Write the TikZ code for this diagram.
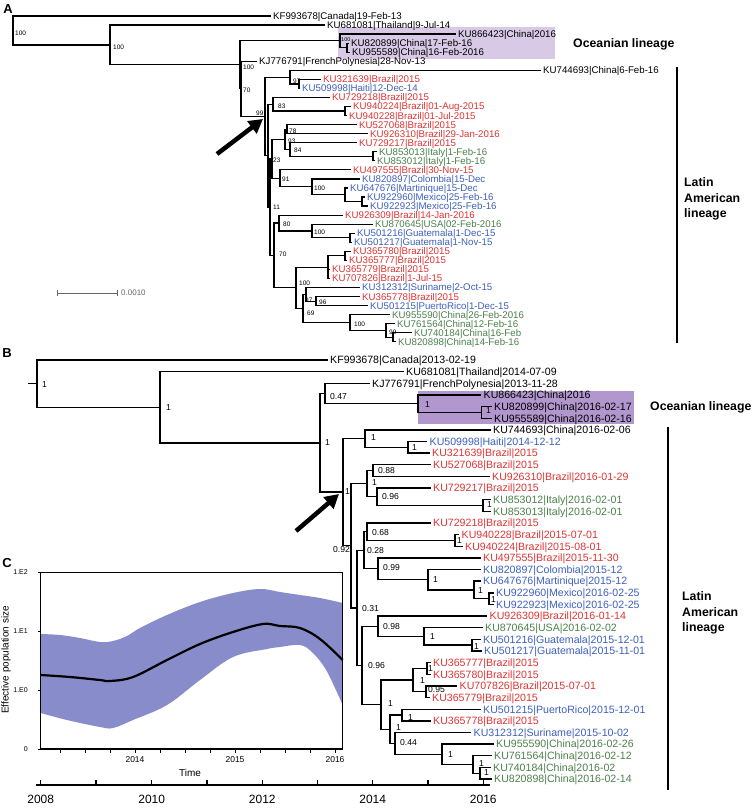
\documentclass[tikz,border=0pt]{standalone}
\usepackage{fontspec}
\setmainfont{Liberation Sans}
\usetikzlibrary{arrows.meta}
\definecolor{zred}{RGB}{222,52,52}
\definecolor{zblue}{RGB}{62,96,190}
\definecolor{zgreen}{RGB}{76,128,76}
\definecolor{boxA}{RGB}{216,202,230}
\definecolor{boxB}{RGB}{178,150,206}
\definecolor{band}{RGB}{136,140,202}
\tikzset{
  brA/.style={line width=1.2pt},
  brB/.style={line width=1.4pt},
  leafA/.style={anchor=west, inner xsep=2pt, inner ysep=0pt, font=\fontsize{9.7}{10}\selectfont, text height=6.9pt, text depth=0pt},
  leafB/.style={anchor=west, inner xsep=2.5pt, inner ysep=0pt, font=\fontsize{10.6}{11}\selectfont, text height=7.6pt, text depth=0pt},
  supA/.style={anchor=west, inner sep=0pt, font=\fontsize{6.5}{7}\selectfont},
  supB/.style={anchor=west, inner sep=0pt, font=\fontsize{8.6}{9}\selectfont},
  lineage/.style={anchor=west, inner sep=0pt, font=\fontsize{12.3}{15.5}\selectfont\bfseries, align=left},
  panel/.style={inner sep=0pt, font=\fontsize{13}{13}\selectfont\bfseries},
  bigarrow/.style={line width=4.5pt, -{Triangle[length=14pt,width=15pt]}},
  lbar/.style={line width=2.6pt},
  axlab/.style={inner sep=0pt, font=\fontsize{7}{8}\selectfont},
}
\begin{document}
\begin{tikzpicture}[x=1pt,y=-1pt]
\useasboundingbox (0,0) rectangle (753,808);
\fill[white] (0,0) rectangle (753,808);

% ================= Panel A =================
\node[panel] (pA) at (8,9) {A};
\fill[boxA] (338,26.7) rectangle (555,59.3);

% leaves A
\node[leafA] (A0) at (271,16.0) {KF993678|Canada|19-Feb-13};
\node[leafA] (A1) at (325,25.05) {KU681081|Thailand|9-Jul-14};
\node[leafA] (A2) at (456,34.1) {KU866423|China|2016};
\node[leafA] (A3) at (349,43.15) {KU820899|China|17-Feb-16};
\node[leafA] (A4) at (350,52.2) {KU955589|China|16-Feb-2016};
\node[leafA] (A5) at (257,61.25) {KJ776791|FrenchPolynesia|28-Nov-13};
\node[leafA] (A6) at (541,70.3) {KU744693|China|6-Feb-16};
\node[leafA,text=zred] (A7) at (321,79.35) {KU321639|Brazil|2015};
\node[leafA,text=zblue] (A8) at (300,88.4) {KU509998|Haiti|12-Dec-14};
\node[leafA,text=zred] (A9) at (330,97.45) {KU729218|Brazil|2015};
\node[leafA,text=zred] (A10) at (351,106.5) {KU940224|Brazil|01-Aug-2015};
\node[leafA,text=zred] (A11) at (347,115.55) {KU940228|Brazil|01-Jul-2015};
\node[leafA,text=zred] (A12) at (357,124.6) {KU527068|Brazil|2015};
\node[leafA,text=zred] (A13) at (368,133.65) {KU926310|Brazil|29-Jan-2016};
\node[leafA,text=zred] (A14) at (357,142.7) {KU729217|Brazil|2015};
\node[leafA,text=zgreen] (A15) at (377,151.75) {KU853013|Italy|1-Feb-16};
\node[leafA,text=zgreen] (A16) at (375,160.8) {KU853012|Italy|1-Feb-16};
\node[leafA,text=zred] (A17) at (351,169.85) {KU497555|Brazil|30-Nov-15};
\node[leafA,text=zblue] (A18) at (360,178.9) {KU820897|Colombia|15-Dec};
\node[leafA,text=zblue] (A19) at (348,187.95) {KU647676|Martinique|15-Dec};
\node[leafA,text=zblue] (A20) at (365,197.0) {KU922960|Mexico|25-Feb-16};
\node[leafA,text=zblue] (A21) at (368,206.05) {KU922923|Mexico|25-Feb-16};
\node[leafA,text=zred] (A22) at (343,215.1) {KU926309|Brazil|14-Jan-2016};
\node[leafA,text=zgreen] (A23) at (373,224.15) {KU870645|USA|02-Feb-2016};
\node[leafA,text=zblue] (A24) at (355,233.2) {KU501216|Guatemala|1-Dec-15};
\node[leafA,text=zblue] (A25) at (352,242.25) {KU501217|Guatemala|1-Nov-15};
\node[leafA,text=zred] (A26) at (351,251.3) {KU365780|Brazil|2015};
\node[leafA,text=zred] (A27) at (347,260.35) {KU365777|Brazil|2015};
\node[leafA,text=zred] (A28) at (330,269.4) {KU365779|Brazil|2015};
\node[leafA,text=zred] (A29) at (330,278.45) {KU707826|Brazil|1-Jul-15};
\node[leafA,text=zblue] (A30) at (360,287.5) {KU312312|Suriname|2-Oct-15};
\node[leafA,text=zred] (A31) at (360,296.55) {KU365778|Brazil|2015};
\node[leafA,text=zblue] (A32) at (368,305.6) {KU501215|PuertoRico|1-Dec-15};
\node[leafA,text=zgreen] (A33) at (390,314.65) {KU955590|China|26-Feb-2016};
\node[leafA,text=zgreen] (A34) at (395,323.7) {KU761564|China|12-Feb-16};
\node[leafA,text=zgreen] (A35) at (412,332.75) {KU740184|China|16-Feb};
\node[leafA,text=zgreen] (A36) at (396,341.8) {KU820898|China|14-Feb-16};

% internal A
\coordinate (nAroot) at (13,30.5);
\coordinate (nAN1) at (110,45.0);
\coordinate (nA100) at (240,64.9);
\coordinate (nAOC) at (340,40.9);
\coordinate (nAP3) at (347,47.7);
\coordinate (nA70) at (241,88.8);
\coordinate (nALA) at (265,116.4);
\coordinate (nAP) at (290,77.1);
\coordinate (nAQ97) at (299,83.9);
\coordinate (nAX) at (268,155.7);
\coordinate (nA83) at (273,104.2);
\coordinate (nAP940) at (345,111.0);
\coordinate (nA11) at (270,207.1);
\coordinate (nA23) at (272,158.8);
\coordinate (nA93) at (285,139.3);
\coordinate (nA78) at (287,129.1);
\coordinate (nA84) at (290,149.5);
\coordinate (nAPit) at (373,156.3);
\coordinate (nA91) at (280,178.3);
\coordinate (nA100c) at (312,186.8);
\coordinate (nAMart) at (345,194.7);
\coordinate (nAPmx) at (362,201.5);
\coordinate (nA70b) at (274,255.4);
\coordinate (nA80) at (279,223.0);
\coordinate (nA100u) at (312,230.9);
\coordinate (nAPgu) at (350,237.7);
\coordinate (nA100b) at (296,287.8);
\coordinate (nABr) at (328,267.1);
\coordinate (nAP780) at (345,255.8);
\coordinate (nA69) at (303,308.5);
\coordinate (nA97) at (306,294.3);
\coordinate (nA96) at (316,301.1);
\coordinate (nACh) at (350,322.6);
\coordinate (nASub) at (386,330.5);
\coordinate (nAP99) at (393,337.3);

\foreach \p/\c in {nAroot/A0, nAroot/nAN1, nAN1/A1, nAN1/nA100, nA100/nAOC, nA100/nA70,
  nAOC/A2, nAOC/nAP3, nAP3/A3, nAP3/A4, nA70/A5, nA70/nALA, nALA/nAP, nALA/nAX,
  nAP/A6, nAP/nAQ97, nAQ97/A7, nAQ97/A8, nAX/nA83, nAX/nA11, nA83/A9, nA83/nAP940,
  nAP940/A10, nAP940/A11, nA11/nA23, nA11/nA70b, nA23/nA93, nA23/nA91,
  nA93/nA78, nA93/nA84, nA78/A12, nA78/A13, nA84/A14, nA84/nAPit, nAPit/A15, nAPit/A16,
  nA91/A17, nA91/nA100c, nA100c/A18, nA100c/nAMart, nAMart/A19, nAMart/nAPmx, nAPmx/A20, nAPmx/A21,
  nA70b/nA80, nA70b/nA100b, nA80/A22, nA80/nA100u, nA100u/A23, nA100u/nAPgu, nAPgu/A24, nAPgu/A25,
  nA100b/nABr, nA100b/nA69, nABr/nAP780, nABr/A28, nABr/A29, nAP780/A26, nAP780/A27,
  nA69/nA97, nA69/nACh, nA97/A30, nA97/nA96, nA96/A31, nA96/A32,
  nACh/A33, nACh/nASub, nASub/A34, nASub/nAP99, nAP99/A35, nAP99/A36}
  \draw[brA] (\p) |- (\c);

% support values A
\foreach \x/\y/\t in {15/33/100, 113/47/100, 243/67/100, 243/90/70, 293/81/97, 256/113/99,
  278/106.5/83, 289/131/78, 288/141/93, 294/150/84, 273/160/23, 282/179/91, 314/188/100,
  273/207/11, 283/224/80, 314/232/100, 279/254/70, 299/283/100, 305/300/97, 319/302/96,
  307/313/69, 354/324/100, 389/332/99}
  \node[supA] at (\x,\y) {\t};
\node[supA,font=\fontsize{5.5}{6}\selectfont] (sA100c) at (341,40) {100};

% scale bar
\coordinate (sbL) at (57,293);
\coordinate (sbR) at (117,293);
\draw[gray!80!black, line width=0.8pt] (sbL) -- (sbR);
\draw[gray!80!black, line width=0.8pt] ([yshift=-3pt]sbL) -- ([yshift=3pt]sbL);
\draw[gray!80!black, line width=0.8pt] ([yshift=-3pt]sbR) -- ([yshift=3pt]sbR);
\node[anchor=west, inner sep=0pt, text=gray!80!black, font=\fontsize{8}{9}\selectfont] (sbT) at (121,293) {0.0010};

% lineage A
\node[lineage] (ocA) at (573,44) {Oceanian lineage};
\coordinate (laAtop) at (677,67);
\coordinate (laAbot) at (677,343);
\draw[lbar] (laAtop) -- (laAbot);
\node[lineage] (laA) at (684,199) {Latin\\American\\lineage};

% arrow A
\coordinate (arAt) at (217,154);
\coordinate (arAh) at (263,119);
\draw[bigarrow] (arAt) -- (arAh);

% ================= Panel B =================
\node[panel] (pB) at (7,353) {B};
\fill[boxB] (418.3,390.7) rectangle (634.3,424.3);

\node[leafB] (B0) at (327.5,360) {KF993678|Canada|2013-02-19};
\node[leafB] (B1) at (403.5,371.64) {KU681081|Thailand|2014-07-09};
\node[leafB] (B2) at (369.5,383.28) {KJ776791|FrenchPolynesia|2013-11-28};
\node[leafB] (B3) at (481,394.92) {KU866423|China|2016};
\node[leafB] (B4) at (491.5,406.56) {KU820899|China|2016-02-17};
\node[leafB] (B5) at (491.5,418.2) {KU955589|China|2016-02-16};
\node[leafB] (B6) at (490.5,429.84) {KU744693|China|2016-02-06};
\node[leafB,text=zblue] (B7) at (427,441.48) {KU509998|Haiti|2014-12-12};
\node[leafB,text=zred] (B8) at (429.5,453.12) {KU321639|Brazil|2015};
\node[leafB,text=zred] (B9) at (430.5,464.76) {KU527068|Brazil|2015};
\node[leafB,text=zred] (B10) at (489.5,476.4) {KU926310|Brazil|2016-01-29};
\node[leafB,text=zred] (B11) at (430.5,488.04) {KU729217|Brazil|2015};
\node[leafB,text=zgreen] (B12) at (490.5,499.68) {KU853012|Italy|2016-02-01};
\node[leafB,text=zgreen] (B13) at (490.5,511.32) {KU853013|Italy|2016-02-01};
\node[leafB,text=zred] (B14) at (430.5,522.96) {KU729218|Brazil|2015};
\node[leafB,text=zred] (B15) at (459,534.6) {KU940228|Brazil|2015-07-01};
\node[leafB,text=zred] (B16) at (462.5,546.24) {KU940224|Brazil|2015-08-01};
\node[leafB,text=zred] (B17) at (480.5,557.88) {KU497555|Brazil|2015-11-30};
\node[leafB,text=zblue] (B18) at (480.5,569.52) {KU820897|Colombia|2015-12};
\node[leafB,text=zblue] (B19) at (480.5,581.16) {KU647676|Martinique|2015-12};
\node[leafB,text=zblue] (B20) at (493.5,592.8) {KU922960|Mexico|2016-02-25};
\node[leafB,text=zblue] (B21) at (493.5,604.44) {KU922923|Mexico|2016-02-25};
\node[leafB,text=zred] (B22) at (487,616.08) {KU926309|Brazil|2016-01-14};
\node[leafB,text=zgreen] (B23) at (482.5,627.72) {KU870645|USA|2016-02-02};
\node[leafB,text=zblue] (B24) at (480.5,639.36) {KU501216|Guatemala|2015-12-01};
\node[leafB,text=zblue] (B25) at (481.5,651.0) {KU501217|Guatemala|2015-11-01};
\node[leafB,text=zred] (B26) at (430.5,662.64) {KU365777|Brazil|2015};
\node[leafB,text=zred] (B27) at (430.5,674.28) {KU365780|Brazil|2015};
\node[leafB,text=zred] (B28) at (457,685.92) {KU707826|Brazil|2015-07-01};
\node[leafB,text=zred] (B29) at (429.5,697.56) {KU365779|Brazil|2015};
\node[leafB,text=zblue] (B30) at (480.5,709.2) {KU501215|PuertoRico|2015-12-01};
\node[leafB,text=zred] (B31) at (430.5,720.84) {KU365778|Brazil|2015};
\node[leafB,text=zblue] (B32) at (471,732.48) {KU312312|Suriname|2015-10-02};
\node[leafB,text=zgreen] (B33) at (493.5,744.12) {KU955590|China|2016-02-26};
\node[leafB,text=zgreen] (B34) at (491.5,755.76) {KU761564|China|2016-02-12};
\node[leafB,text=zgreen] (B35) at (490.5,767.4) {KU740184|China|2016-02};
\node[leafB,text=zgreen] (B36) at (491.5,779.04) {KU820898|China|2016-02-14};

\coordinate (nBstub) at (28,383.6);
\coordinate (nBroot) at (37,383.6);
\coordinate (nBN1) at (160,407.23);
\coordinate (nBN2) at (320,442.82);
\coordinate (nB047) at (325,393.47);
\coordinate (nBOC) at (418,403.65);
\coordinate (nBOCp) at (481.7,412.38);
\coordinate (nBL) at (343,492.17);
\coordinate (nBT) at (365,438.57);
\coordinate (nBP509) at (408,447.3);
\coordinate (nB092) at (351,545.77);
\coordinate (nB1a) at (367,483.68);
\coordinate (nB088) at (373,470.58);
\coordinate (nB096a) at (377,496.77);
\coordinate (nBIt) at (483,505.5);
\coordinate (nB031) at (357,607.86);
\coordinate (nB028) at (364,550.24);
\coordinate (nB068) at (367,531.69);
\coordinate (nBP940) at (455,540.42);
\coordinate (nB099) at (378,568.79);
\coordinate (nBCol) at (428,579.7);
\coordinate (nBMart) at (474,589.89);
\coordinate (nBMx) at (489,598.62);
\coordinate (nB096b) at (362,665.47);
\coordinate (nB098) at (378,626.27);
\coordinate (nBUSA) at (424,636.45);
\coordinate (nBGu) at (472,645.18);
\coordinate (nB1b) at (381,704.66);
\coordinate (nBBr) at (413,680.1);
\coordinate (nBP777) at (427,668.46);
\coordinate (nB095) at (426,691.74);
\coordinate (nBBot) at (390,729.21);
\coordinate (nBP215) at (402,715.02);
\coordinate (nB044) at (395,743.4);
\coordinate (nBCh) at (442,754.31);
\coordinate (nBCs) at (473,764.49);
\coordinate (nBCp) at (480,773.22);

\draw[brB] (nBstub) -- (nBroot);
\foreach \p/\c in {nBroot/B0, nBroot/nBN1, nBN1/B1, nBN1/nBN2, nBN2/nB047, nBN2/nBL,
  nB047/B2, nB047/nBOC, nBOC/B3, nBOC/nBOCp, nBOCp/B4, nBOCp/B5,
  nBL/nBT, nBL/nB092, nBT/B6, nBT/nBP509, nBP509/B7, nBP509/B8,
  nB092/nB1a, nB092/nB031, nB1a/nB088, nB1a/nB096a, nB088/B9, nB088/B10,
  nB096a/B11, nB096a/nBIt, nBIt/B12, nBIt/B13,
  nB031/nB028, nB031/nB096b, nB028/nB068, nB028/nB099, nB068/B14, nB068/nBP940,
  nBP940/B15, nBP940/B16, nB099/B17, nB099/nBCol, nBCol/B18, nBCol/nBMart,
  nBMart/B19, nBMart/nBMx, nBMx/B20, nBMx/B21,
  nB096b/nB098, nB096b/nB1b, nB098/B22, nB098/nBUSA, nBUSA/B23, nBUSA/nBGu, nBGu/B24, nBGu/B25,
  nB1b/nBBr, nB1b/nBBot, nBBr/nBP777, nBBr/nB095, nBP777/B26, nBP777/B27, nB095/B28, nB095/B29,
  nBBot/nBP215, nBBot/nB044, nBP215/B30, nBP215/B31,
  nB044/B32, nB044/nBCh, nBCh/B33, nBCh/nBCs, nBCs/B34, nBCs/nBCp, nBCp/B35, nBCp/B36}
  \draw[brB] (\p) |- (\c);

\foreach \x/\y/\t in {42/385/1, 166/408/1, 330/397/0.47, 325/443/1, 425/405/1, 486/411/1,
  371/438/1, 412/448/1, 345/492/1, 378/471/0.88, 372/483/1, 382/497/0.96, 487/505/1,
  333/550/0.92, 372/533/0.68, 457/541/1, 367/551/0.28, 383/568/0.99, 433/580/1, 478/591/1,
  491/600/1, 362/609/0.31, 383/627/0.98, 430/637/1, 474/647/1, 368/666/0.96, 428/669/1,
  420/681/1, 428/689.5/0.95, 388/704/1, 408/718/1, 396/728/1, 400/743/0.44, 448/755/1,
  479/764/1, 484/773/1}
  \node[supB] at (\x,\y) {\t};

% lineage B
\node[lineage] (ocB) at (650,407) {Oceanian lineage};
\coordinate (laBtop) at (668,427);
\coordinate (laBbot) at (668,790);
\draw[lbar] (laBtop) -- (laBbot);
\node[lineage] (laB) at (682,613) {Latin\\American\\lineage};

% arrow B
\coordinate (arBt) at (296,531);
\coordinate (arBh) at (339,494);
\draw[bigarrow] (arBt) -- (arBh);

% time axis B
\coordinate (axL) at (36,785);
\coordinate (axR) at (490,785);
\draw[line width=1.3pt] (axL) -- (axR);
\foreach \x in {40.7,96,151.7,207,262.3,317.3,372.7,428,483.3}
  \draw[line width=1.1pt] (\x,785) -- (\x,780);
\foreach \x/\t in {40.7/2008,151.7/2010,262.3/2012,372.7/2014,483.3/2016}
  \node[inner sep=0pt, font=\fontsize{12}{13}\selectfont] at (\x,799) {\t};

% ================= Panel C =================
\node[panel] (pC) at (7,563) {C};
\fill[band] plot[smooth, tension=0.6] coordinates {(40.7,634) (60,635) (80,638) (100,642) (113,641) (127,636) (140,628) (167,615) (200,602) (233,593) (260,589) (280,592) (300,595) (320,598) (342.7,603)}
  -- plot[smooth, tension=0.6] coordinates {(342.7,705) (335,688) (325,668) (312,652) (300,645) (280,647) (267,649) (233,657) (200,680) (167,705) (133,720) (113,728) (100,727) (67,720) (40.7,713)} -- cycle;
\draw[line width=2.2pt] plot[smooth, tension=0.6] coordinates {(40.7,675) (70,677) (100,680) (110,681) (133,677) (167,660) (200,644) (233,632) (263,624) (280,626) (300,628) (320,639) (342.7,660)};
\coordinate (cTL) at (40.7,572.3);
\coordinate (cBR) at (342.7,749);
\draw[line width=1.3pt] (cTL) rectangle (cBR);
\foreach \x in {60,85,110,135,160,185,210,235,260,285,310,335}
  \draw[line width=0.9pt] (\x,749) -- (\x,752.5);
\foreach \y/\t in {572.3/1.E2, 631/1.E1, 690/1.E0, 749/0} {
  \draw[line width=0.9pt] (40.7,\y) -- (37.5,\y);
  \node[axlab, anchor=east] at (28,\y) {\t};
}
\foreach \x/\t in {135/2014, 235/2015, 335/2016}
  \node[axlab, font=\fontsize{8.5}{9}\selectfont] at (\x,760) {\t};
\node[inner sep=0pt, font=\fontsize{10}{11}\selectfont] (cT) at (190,773) {Time};
\node[inner sep=0pt, rotate=90, font=\fontsize{10}{11}\selectfont] (cY) at (6,660) {Effective population size};
\end{tikzpicture}
\end{document}
